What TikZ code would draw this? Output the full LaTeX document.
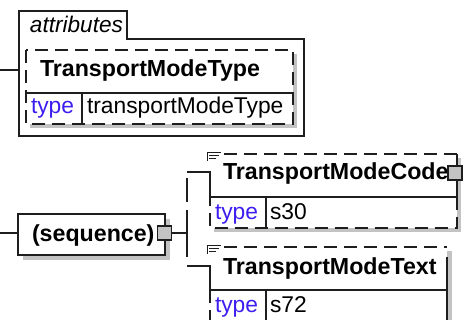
\documentclass[tikz,border=0pt]{standalone}
\usepackage{fontspec}
\setmainfont{Liberation Sans}
\usetikzlibrary{calc}
\definecolor{typeblue}{RGB}{60,30,240}
\definecolor{shad}{RGB}{195,195,195}
\definecolor{ln}{RGB}{30,30,30}
\begin{document}
\begin{tikzpicture}[x=1pt,y=-1pt,line width=1.3pt,
  every node/.style={inner sep=0pt,outer sep=0pt},
  lbl/.style={anchor=base west,font=\fontsize{22.8}{26}\selectfont},
  blbl/.style={anchor=base west,font=\fontsize{23.2}{26}\selectfont\bfseries},
  ilbl/.style={anchor=base west,font=\fontsize{22.6}{26}\selectfont\itshape},
  tlbl/.style={lbl,text=typeblue},
  sld/.style={draw=ln},
  dsh/.style={draw=ln,dash pattern=on 13pt off 7pt},
  shd/.style={fill=shad,draw=none},
  port/.style={draw=ln,fill=shad,minimum size=14pt,line width=1.1pt},
  docicon/.style={draw=ln,line width=1pt}
]
\useasboundingbox (0,0) rectangle (464,320);
\clip (0,0) rectangle (464,320);

% ---------- attributes group ----------
\draw[sld] (19,136) -- (19,11) -- (127,11) -- (127,39) -- (304,39) -- (304,136) -- cycle;
\node[ilbl] (attrlbl) at (30,33) {attributes};
\coordinate (attrL) at (19,70);
\coordinate (in1) at (0,70);
\draw[sld] (in1) -- (attrL);

% inner dashed box TransportModeType
\coordinate (tmtTL) at (26,50);
\coordinate (tmtBR) at (293,124);
\fill[shd] ($(tmtTL)+(4,4)$) rectangle ($(tmtBR)+(4,4)$);
\fill[white] (tmtTL) rectangle (tmtBR);
\draw[dsh] (tmtTL) rectangle (tmtBR);
\draw[sld] (26,93) -- (293,93);
\draw[sld] (82,93) -- (82,124);
\node[blbl] (tmtname) at (40,77) {TransportModeType};
\node[tlbl] (tmttype) at (31,114) {type};
\node[lbl] (tmttypev) at (87,114) {transportModeType};

% ---------- sequence ----------
\fill[shd] (23,219) rectangle (170,260);
\fill[white] (18,214) rectangle (165,255);
\node[sld,anchor=north west,minimum width=147pt,minimum height=41pt] (seq) at (18,214) {};
\node[blbl] (seqlbl) at (32,242) {(sequence)};
\coordinate (in2) at (0,233);
\draw[sld] (in2) -- (in2 -| seq.west);
\node[port] (seqport) at (164.5,233) {};
\coordinate (br) at (187,233);
\draw[sld] (seqport.east) -- (br);
\draw[sld,dash pattern=on 24pt off 8pt on 60pt off 8pt] (187,178) -- (187,257);

% ---------- element 1: TransportModeCode ----------
\fill[shd] (214,158) rectangle (461,232);
\fill[white] (210,154) rectangle (457,228);
\coordinate (e1in) at (187,172);
\coordinate (e1L) at (210,172);
\coordinate (e1M) at (210,197);
\draw[sld] (e1in) -- (e1L) -- (e1M) -- (457,197) -- (457,154);
\draw[dsh] (224,154) -- (457,154);
\draw[dsh] (457,197) -- (457,228) -- (210,228) -- (e1M);
\draw[sld] (266,197) -- (266,228);
\draw[docicon] (207,152) -- (207,161) (207,153) -- (221,153) (209,156) -- (219,156) (209,159) -- (216,159);
\node[blbl] (e1name) at (223,180) {TransportModeCode};
\node[tlbl] (e1type) at (215,220) {type};
\node[lbl] (e1typev) at (270,220) {s30};
\node[port] (e1port) at (455,173) {};

% ---------- element 2: TransportModeText ----------
\fill[shd] (214,251) rectangle (452,330);
\fill[white] (210,247) rectangle (447,326);
\coordinate (e2in) at (187,266);
\coordinate (e2L) at (210,266);
\coordinate (e2M) at (210,290);
\draw[sld] (e2in) -- (e2L) -- (e2M) -- (447,290);
\draw[sld] (447,257) -- (447,326);
\draw[dsh] (224,247) -- (447,247);
\draw[dsh] (e2M) -- (210,326);
\draw[sld] (266,290) -- (266,326);
\draw[docicon] (207,245) -- (207,254) (207,246) -- (221,246) (209,249) -- (219,249) (209,252) -- (216,252);
\node[blbl] (e2name) at (223,275) {TransportModeText};
\node[tlbl] (e2type) at (215,313) {type};
\node[lbl] (e2typev) at (270,313) {s72};
\end{tikzpicture}
\end{document}
